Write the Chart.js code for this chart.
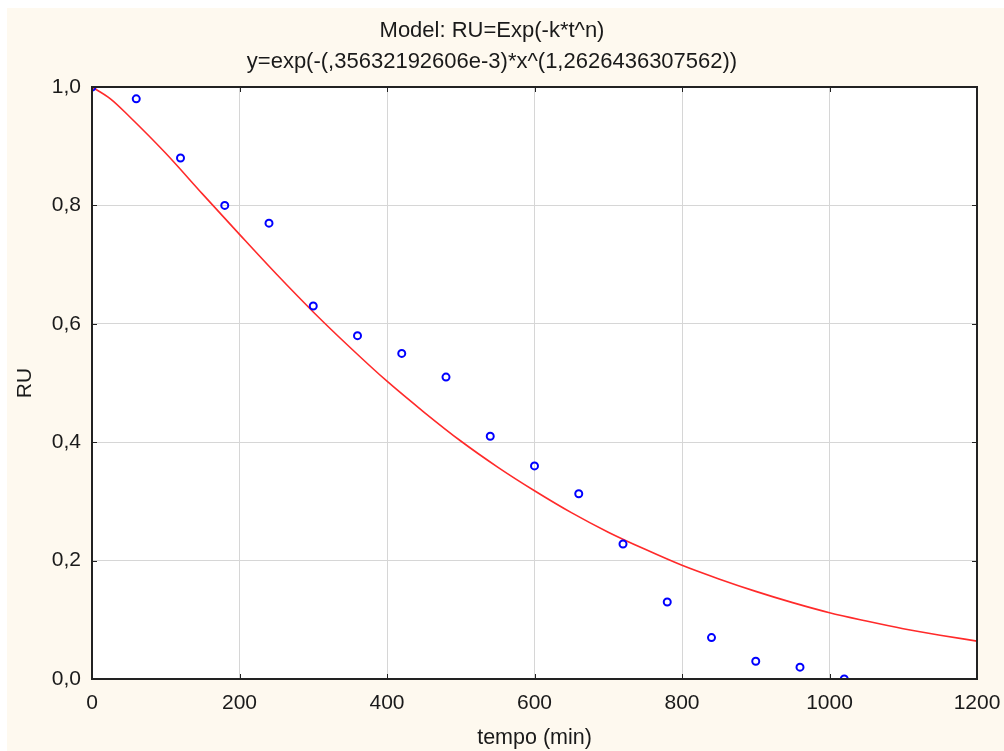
<!DOCTYPE html>
<html>
<head>
<meta charset="utf-8">
<script src="https://cdn.jsdelivr.net/npm/chart.js@4/dist/chart.umd.min.js"></script>
<style>
  body { margin: 0; background: #ffffff; }
  #wrap { position: absolute; left: 7px; top: 8px; width: 997px; height: 743px; background: #fef9ef; }
</style>
</head>
<body>
<div id="wrap"><canvas id="chart" width="997" height="743"></canvas></div>
<script>
// observed points (tempo in min, RU)
const obsTime = [0, 60, 120, 180, 240, 300, 360, 420, 480, 540, 600, 660, 720, 780, 840, 900, 960, 1020];
const obsRU = [1.0, 0.98, 0.88, 0.80, 0.77, 0.63, 0.58, 0.55, 0.51, 0.41, 0.36, 0.313, 0.228, 0.13, 0.07, 0.03, 0.02, 0.0];

// fitted curve
const fitTime = [0, 25, 50, 100, 150, 200, 250, 300, 350, 400, 450, 500, 550, 600, 650, 700, 750, 800, 850, 900, 950, 1000, 1050, 1100, 1150, 1200];
const fitRU = [1.0, 0.980, 0.951, 0.888, 0.819, 0.751, 0.684, 0.620, 0.560, 0.503, 0.451, 0.402, 0.358, 0.318, 0.281, 0.248, 0.219, 0.192, 0.169, 0.148, 0.129, 0.112, 0.098, 0.085, 0.074, 0.064];

const titleLines = ['Model: RU=Exp(-k*t^n)', 'y=exp(-(,35632192606e-3)*x^(1,2626436307562))'];

const textColor = '#1a1a1a';
const fontFamily = '"Liberation Sans", Arial, sans-serif';

// frame round the plot with short inward ticks, like the original
const framePlugin = {
  id: 'frame',
  afterDraw(chart) {
    const { ctx, chartArea: a, scales } = chart;
    ctx.save();
    ctx.strokeStyle = '#222222';
    ctx.lineWidth = 1;
    scales.x.ticks.forEach(t => {
      const px = Math.round(scales.x.getPixelForValue(t.value)) + 0.5;
      ctx.beginPath();
      ctx.moveTo(px, a.bottom); ctx.lineTo(px, a.bottom - 5);
      ctx.moveTo(px, a.top); ctx.lineTo(px, a.top + 5);
      ctx.stroke();
    });
    scales.y.ticks.forEach(t => {
      const py = Math.round(scales.y.getPixelForValue(t.value)) + 0.5;
      ctx.beginPath();
      ctx.moveTo(a.left, py); ctx.lineTo(a.left + 5, py);
      ctx.moveTo(a.right, py); ctx.lineTo(a.right - 5, py);
      ctx.stroke();
    });
    ctx.lineWidth = 2;
    ctx.strokeRect(a.left, a.top, a.right - a.left, a.bottom - a.top);
    ctx.restore();
  }
};

const plotBg = {
  id: 'plotBg',
  beforeDraw(chart) {
    const { ctx, chartArea: a } = chart;
    ctx.save();
    ctx.fillStyle = '#ffffff';
    ctx.fillRect(a.left, a.top, a.right - a.left, a.bottom - a.top);
    ctx.restore();
  }
};

new Chart(document.getElementById('chart'), {
  type: 'scatter',
  data: {
    datasets: [
      {
        label: 'fit',
        data: fitTime.map((t, i) => ({ x: t, y: fitRU[i] })),
        showLine: true,
        borderColor: '#ff2a2a',
        borderWidth: 1.6,
        pointRadius: 0,
        cubicInterpolationMode: 'monotone',
        clip: 0,
        order: 2
      },
      {
        label: 'RU',
        data: obsTime.map((t, i) => ({ x: t, y: obsRU[i] })),
        showLine: false,
        pointRadius: 3.5,
        pointBorderWidth: 2,
        pointBorderColor: '#0000ff',
        pointBackgroundColor: 'rgba(0,0,0,0)',
        clip: 0,
        order: 1
      }
    ]
  },
  options: {
    responsive: false,
    animation: false,
    events: [],
    layout: { padding: { top: 0, left: 0, right: 27, bottom: 0 } },
    plugins: {
      legend: { display: false },
      tooltip: { enabled: false },
      title: {
        display: true,
        text: titleLines,
        color: textColor,
        font: { family: fontFamily, size: 22, weight: 'normal', lineHeight: 31 / 22 },
        padding: { top: 7.5, bottom: 9.5 }
      }
    },
    scales: {
      x: {
        type: 'linear',
        min: 0,
        max: 1200,
        afterFit: s => { s.height = 72; s.paddingRight = 0; s.paddingLeft = 0; },
        border: { display: false },
        grid: { color: '#d6d6d6', lineWidth: 1, drawTicks: false },
        ticks: {
          stepSize: 200,
          padding: 12,
          color: textColor,
          font: { family: fontFamily, size: 21 },
          maxRotation: 0,
          callback: v => String(v)
        },
        title: {
          display: true,
          text: 'tempo (min)',
          color: textColor,
          font: { family: fontFamily, size: 21.5 },
          padding: { top: 1, bottom: 0 }
        }
      },
      y: {
        min: 0,
        max: 1,
        afterFit: s => { s.width = 85; },
        border: { display: false },
        grid: { color: '#d6d6d6', lineWidth: 1, drawTicks: false },
        ticks: {
          stepSize: 0.2,
          padding: 11,
          color: textColor,
          font: { family: fontFamily, size: 21 },
          callback: v => v.toFixed(1).replace('.', ',')
        },
        title: {
          display: true,
          text: 'RU',
          color: textColor,
          font: { family: fontFamily, size: 21 },
          padding: { top: 6, bottom: 0 }
        }
      }
    }
  },
  plugins: [plotBg, framePlugin]
});
</script>
</body>
</html>
